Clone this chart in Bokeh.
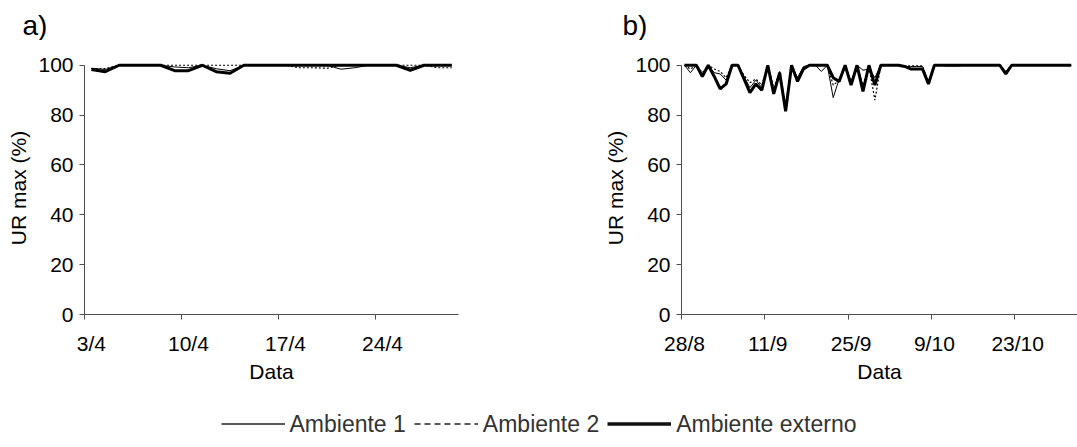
from bokeh.plotting import figure
from bokeh.models import Range1d, FixedTicker, Legend, LegendItem
from bokeh.core.properties import value
from bokeh.layouts import column, row
from bokeh.embed import file_html
from bokeh.resources import INLINE

# ---------------- data ----------------
panel_tags = ["a)", "b)"]

# a) daily maximum relative humidity, one value per day from 3/4 to 29/4
a_amb1 = [98.8, 98.3, 100, 100, 100, 100, 99.3, 99.0, 100, 98.6,
          97.8, 100, 100, 100, 100, 100, 100, 100, 98.4, 99.0,
          100, 100, 100, 99.0, 100, 100, 100]
a_amb2 = [98.7, 98.7, 100, 100, 100, 100, 100, 100, 100, 100,
          100, 100, 100, 100, 100, 99.0, 99.0, 98.8, 100, 100,
          100, 100, 100, 100, 100, 99.0, 99.0]
a_ext = [98.3, 97.4, 100, 100, 100, 100, 97.8, 97.8, 100, 97.4,
         96.8, 100, 100, 100, 100, 100, 100, 100, 100, 100,
         100, 100, 100, 98.0, 100, 100, 100]
a_tick_days = [0, 7, 14, 21]
a_tick_labels = ["3/4", "10/4", "17/4", "24/4"]

# b) daily maximum relative humidity, one value per day from 28/8 to 1/11
b_amb1 = [100, 97, 100, 96.5, 100, 97, 96.5, 94, 100, 100,
          95.5, 91, 94, 91, 100, 89.5, 97.5, 83, 100, 95,
          99.5, 100, 100, 97.5, 100, 87, 94.5, 100, 93.5, 100,
          98, 98.5, 95, 100, 100, 100, 100, 99.5, 99.5, 99.5,
          99.5, 93.5, 100, 100, 99.7, 99.7, 99.7, 100, 100, 100,
          100, 100, 100, 100, 97.5, 100, 100, 100, 100, 100,
          100, 100, 100, 100, 100, 100]
b_amb2 = [100, 98.5, 100, 97, 100, 98.5, 97.5, 95, 100, 100,
          96, 93, 94.5, 92, 100, 91, 97, 84, 100, 94.5,
          99, 100, 100, 100, 100, 92, 94, 100, 93, 100,
          92, 99.5, 86, 100, 100, 100, 100, 99.8, 99.8, 99.8,
          99.8, 93, 100, 100, 100, 100, 100, 100, 100, 100,
          100, 100, 100, 100, 97.5, 100, 100, 100, 100, 100,
          100, 100, 100, 100, 100, 100]
b_ext = [100, 100, 100, 95.5, 100, 95.5, 90.5, 92.5, 100, 100,
         94.5, 89, 92.5, 90, 100, 88.5, 97, 81.5, 100, 93.5,
         98.5, 100, 100, 100, 100, 95, 93.5, 100, 92, 100,
         89.5, 100, 92, 100, 100, 100, 100, 99.5, 98.5, 98.5,
         98.5, 92.5, 100, 100, 100, 100, 100, 100, 100, 100,
         100, 100, 100, 100, 96.5, 100, 100, 100, 100, 100,
         100, 100, 100, 100, 100, 100]
b_tick_days = [0, 14, 28, 42, 56]
b_tick_labels = ["28/8", "11/9", "25/9", "9/10", "23/10"]

y_ticks = [0, 20, 40, 60, 80, 100]
series_names = ["Ambiente 1", "Ambiente 2", "Ambiente externo"]

# ---------------- styling ----------------
FONT = "Liberation Sans"
AXIS_GRAY = "#4d4d4d"
THIN = dict(line_color="black", line_width=1)
DASHED = dict(line_color="black", line_width=1.2, line_dash="2 2")
THICK = dict(line_color="black", line_width=3)
TOTAL_W = 1077
TAG_H = 40
PANEL_H = 360
LEG_H = 47


def blank_strip(height):
    s = figure(width=TOTAL_W, height=height, output_backend="svg",
               toolbar_location=None, x_axis_location=None,
               y_axis_location=None, min_border=0,
               x_range=Range1d(0, TOTAL_W), y_range=Range1d(height, 0))
    s.outline_line_color = None
    s.grid.visible = False
    return s


def make_panel(width, x_end, border_left, border_right,
               border_top, border_bottom):
    p = figure(width=width, height=PANEL_H, output_backend="svg",
               toolbar_location=None,
               x_range=Range1d(0, x_end), y_range=Range1d(0, 101.5),
               min_border_left=border_left, min_border_right=border_right,
               min_border_top=border_top, min_border_bottom=border_bottom)
    p.outline_line_color = None
    p.grid.visible = False
    p.background_fill_color = "white"
    p.border_fill_color = "white"

    for ax in (p.xaxis[0], p.yaxis[0]):
        ax.axis_line_color = AXIS_GRAY
        ax.axis_line_width = 1
        ax.major_tick_line_color = AXIS_GRAY
        ax.major_tick_in = 0
        ax.major_tick_out = 5
        ax.major_label_text_font = FONT
        ax.major_label_text_font_size = "21px"
        ax.major_label_text_color = "black"
        ax.axis_label_text_font = FONT
        ax.axis_label_text_font_size = "21px"
        ax.axis_label_text_font_style = "normal"
        ax.axis_label_text_color = "black"

    yax = p.yaxis[0]
    yax.ticker = FixedTicker(ticks=y_ticks)
    yax.minor_tick_line_color = None
    yax.bounds = (0, 100)
    yax.major_label_standoff = 6
    yax.axis_label = "UR max (%)"
    yax.axis_label_standoff = 5

    xax = p.xaxis[0]
    xax.axis_label = "Data"
    xax.major_label_standoff = 12
    xax.axis_label_standoff = 2
    return p


def set_date_axis(p, tick_days, tick_labels):
    # tick marks on the slot edges, labels under the slot centres
    xax = p.xaxis[0]
    label_pos = [d + 0.5 for d in tick_days]
    xax.ticker = FixedTicker(ticks=label_pos, minor_ticks=tick_days)
    xax.major_label_overrides = dict(zip(label_pos, tick_labels))
    xax.major_tick_line_color = None
    xax.minor_tick_line_color = AXIS_GRAY
    xax.minor_tick_in = 0
    xax.minor_tick_out = 5


# panel tags strip
p_tags = blank_strip(TAG_H)
p_tags.text(x=[22, 622], y=[9, 9], text=panel_tags,
            text_font=value(FONT), text_font_size=value("28px"),
            text_baseline="top", text_align="left", text_color="black")

# a) 13.86 px per day, y axis at x = 84
p_a = make_panel(540, 374 / 13.86, 84, 82, 21, 79)
set_date_axis(p_a, a_tick_days, a_tick_labels)
days_a = [i + 0.5 for i in range(len(a_ext))]
p_a.line(days_a, a_amb1, **THIN)
p_a.line(days_a, a_amb2, **DASHED)
p_a.line(days_a, a_ext, **THICK)

# b) 5.95 px per day, y axis at x = 681
p_b = make_panel(537, 396 / 5.95, 141, 0, 20, 86)
set_date_axis(p_b, b_tick_days, b_tick_labels)
days_b = [i + 0.5 for i in range(len(b_ext))]
p_b.line(days_b, b_amb1, **THIN)
p_b.line(days_b, b_amb2, **DASHED)
p_b.line(days_b, b_ext, **THICK)

# shared legend strip; its sample lines sit outside the visible range
p_leg = blank_strip(LEG_H)
hidden_x = [-50, -40]
hidden_y = [-50, -40]
r1 = p_leg.line(hidden_x, hidden_y, line_color="#222", line_width=1.5)
r2 = p_leg.line(hidden_x, hidden_y, line_color="#222", line_width=1.5,
                line_dash="6 4")
r3 = p_leg.line(hidden_x, hidden_y, line_color="#111", line_width=3.5)
legend = Legend(items=[LegendItem(label=n, renderers=[r])
                       for n, r in zip(series_names, [r1, r2, r3])],
                orientation="horizontal", location="center",
                glyph_width=64, glyph_height=24, label_standoff=5,
                spacing=8, padding=0, margin=0,
                border_line_color=None, background_fill_alpha=0,
                label_text_font=FONT,
                label_text_font_size="23px", label_text_color="#333")
p_leg.add_layout(legend)

layout = column(p_tags, row(p_a, p_b), p_leg)

with open("out.html", "w") as f:
    f.write(file_html(layout, INLINE))
